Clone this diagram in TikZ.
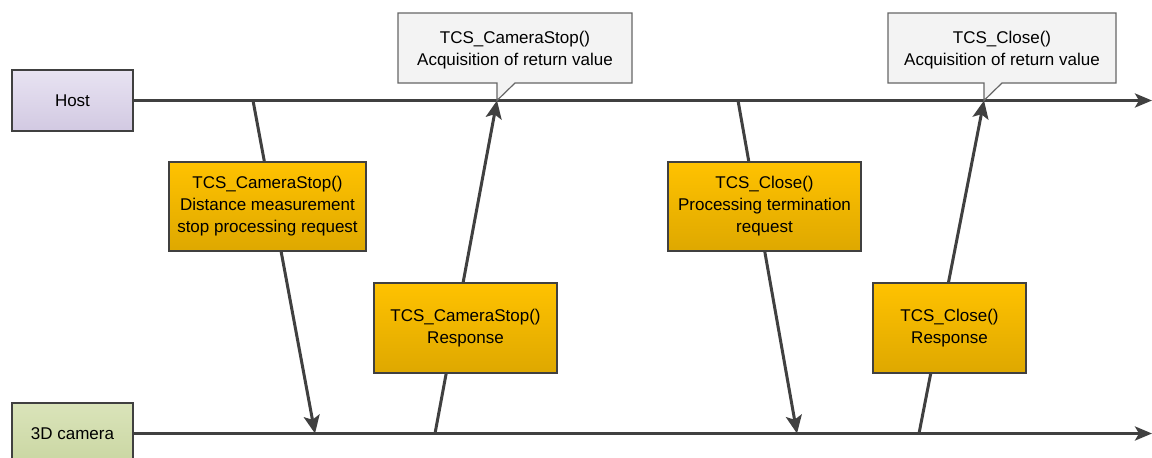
\documentclass[tikz,border=0pt]{standalone}
\usepackage{fontspec}
\setmainfont{Liberation Sans}
\usetikzlibrary{arrows.meta,shadings}
\definecolor{ln}{HTML}{404040}
\definecolor{orTop}{HTML}{FFC200}
\definecolor{orBot}{HTML}{DEA800}
\definecolor{hostTop}{HTML}{E8E3F2}
\definecolor{hostBot}{HTML}{D2C9E2}
\definecolor{camTop}{HTML}{DAE4BA}
\definecolor{camBot}{HTML}{CAD6A2}
\definecolor{callfill}{HTML}{F3F3F3}
\begin{document}
\begin{tikzpicture}[x=1pt,y=-1pt,
  txt/.style={font=\fontsize{17}{22}\selectfont, align=center, text=black},
  actor/.style={txt, draw=ln, line width=1.5pt, minimum width=121pt, minimum height=61pt, inner sep=0pt},
  msgbox/.style={txt, draw=ln, line width=1.5pt, top color=orTop, bottom color=orBot, inner sep=0pt},
  lifeline/.style={draw=ln, line width=3pt, -{Stealth[length=17pt,width=14pt,inset=4pt]}},
  msg/.style={draw=ln, line width=3pt, -{Stealth[length=18pt,width=16pt,inset=4pt]}},
  callout/.style={draw=ln!80, line width=1.2pt, fill=callfill, line join=miter}
]
\useasboundingbox (0,0) rectangle (1152,458);
\clip (0,0) rectangle (1152,458);

% actors
\node[actor, top color=hostTop, bottom color=hostBot] (host) at (72.5,100.5) {Host};
\node[actor, top color=camTop, bottom color=camBot] (cam) at (72.5,433.5) {3D camera};

% lifelines
\coordinate (hostend) at (1152,100.5);
\coordinate (camend) at (1152,433.5);
\draw[lifeline] (host.east) -- (hostend);
\draw[lifeline] (cam.east) -- (camend);

% message endpoints
\coordinate (h1) at (253,100.5);
\coordinate (c1) at (315,433.5);
\coordinate (c2) at (435,433.5);
\coordinate (h2) at (497,100.5);
\coordinate (h3) at (738,100.5);
\coordinate (c3) at (797,433.5);
\coordinate (c4) at (919,433.5);
\coordinate (h4) at (984,100.5);

\draw[msg] (h1) -- (c1);
\draw[msg] (c2) -- (h2);
\draw[msg] (h3) -- (c3);
\draw[msg] (c4) -- (h4);

% message boxes
\node[msgbox, minimum width=197pt, minimum height=89pt] (m1) at (267.5,206.5)
  {TCS\_CameraStop()\\Distance measurement\\stop processing request};
\node[msgbox, minimum width=183pt, minimum height=90pt] (m2) at (465.5,328)
  {TCS\_CameraStop()\\Response};
\node[msgbox, minimum width=193pt, minimum height=89pt] (m3) at (764.5,206.5)
  {TCS\_Close()\\Processing termination\\request};
\node[msgbox, minimum width=153pt, minimum height=90pt] (m4) at (949.5,328)
  {TCS\_Close()\\Response};

% callouts
\path[callout] (398,13) -- (632,13) -- (632,83) -- (515,83) -- (h2) -- (497,83) -- (398,83) -- cycle;
\node[txt] (r1) at (515,50) {TCS\_CameraStop()\\Acquisition of return value};
\path[callout] (888,13) -- (1116,13) -- (1116,83) -- (1002,83) -- (h4) -- (984,83) -- (888,83) -- cycle;
\node[txt] (r2) at (1002,50) {TCS\_Close()\\Acquisition of return value};
\end{tikzpicture}
\end{document}
